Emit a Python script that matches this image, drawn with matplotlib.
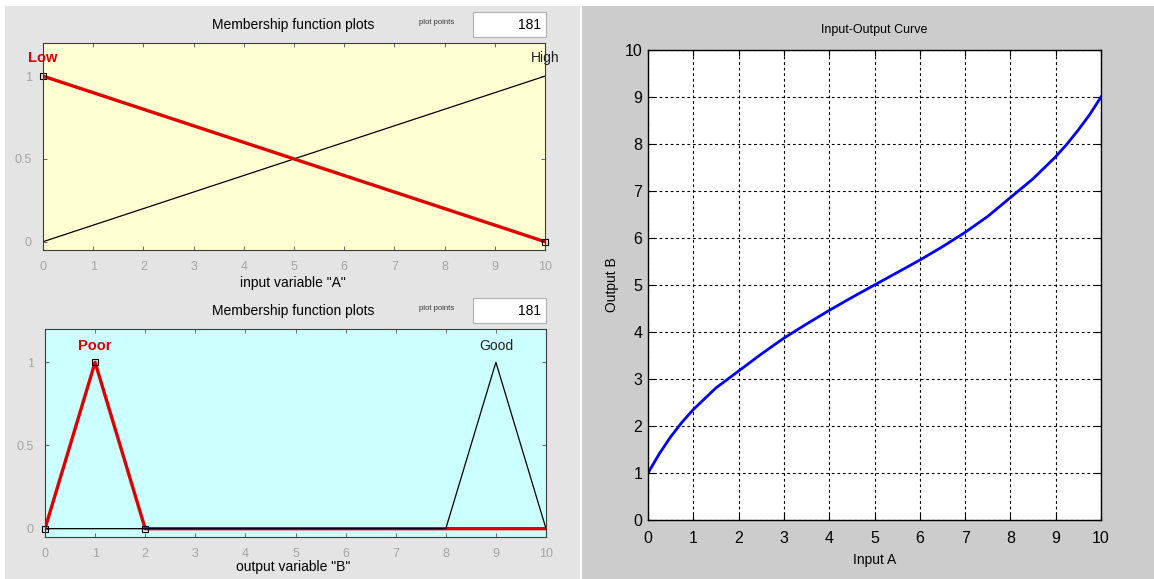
import matplotlib.pyplot as plt
from matplotlib.patches import Rectangle

W, H = 1154, 579

# membership functions of input A (Low / High)
a_x = [0, 10]
a_low = [1, 0]
a_high = [0, 1]

# membership functions of output B (Poor / Good), trimf corners
b_x = [0, 1, 2, 8, 9, 10]
b_poor = [0, 1, 0, 0, 0, 0]
b_good = [0, 0, 0, 0, 1, 0]
poor_pts_x = [0, 1, 2]
poor_pts_y = [0, 1, 0]

mf_ticks = list(range(11))
mf_yticks = [0, 0.5, 1]
mf_yticklabels = ['0', '0.5', '1']
plot_points = '181'

# surface curve of the fuzzy system
curve_x = [0, 0.25, 0.5, 0.75, 1, 1.5, 2, 2.5, 3, 3.5, 4, 4.5, 5,
           5.5, 6, 6.5, 7, 7.5, 8, 8.5, 9, 9.25, 9.5, 9.75, 10]
curve_y = [1, 1.41, 1.77, 2.08, 2.35, 2.81, 3.17, 3.53, 3.87, 4.17, 4.46, 4.735, 5,
           5.265, 5.53, 5.815, 6.12, 6.46, 6.86, 7.26, 7.73, 8.0, 8.3, 8.625, 9]

plt.rcParams['font.family'] = ['Liberation Sans', 'DejaVu Sans']


def fx(px):
    return px / W


def fy(py):
    return 1 - py / H


def box(l, t, r, b):
    return [fx(l), fy(b), fx(r) - fx(l), fy(t) - fy(b)]


fig = plt.figure(figsize=(W / 100, H / 100), dpi=100, facecolor='white')

# window backgrounds, kept under the axes
fig.patches.append(Rectangle((fx(5), 0), fx(580) - fx(5), fy(6), transform=fig.transFigure,
                             facecolor='#e4e4e4', edgecolor='none', zorder=-10))
fig.patches.append(Rectangle((fx(582), 0), 1 - fx(582), fy(6), transform=fig.transFigure,
                             facecolor='#cccccc', edgecolor='none', zorder=-10))


def mf_axes(rect, bg):
    ax = fig.add_axes(rect, facecolor=bg)
    ax.set_xlim(0, 10)
    ax.set_ylim(-0.05, 1.2)
    ax.set_xticks(mf_ticks)
    ax.set_yticks(mf_yticks)
    ax.set_yticklabels(mf_yticklabels)
    ax.tick_params(direction='in', top=True, right=True, length=3, width=0.6,
                   colors='#555555', labelcolor='#a4a4a4', labelsize=9)
    ax.tick_params(axis='x', pad=8)
    ax.tick_params(axis='y', pad=8)
    for s in ax.spines.values():
        s.set_color('#3c3c3c')
        s.set_linewidth(0.8)
    return ax


def mf_header(top):
    fig.text(fx(293), fy(top + 13), 'Membership function plots', ha='center', va='center', fontsize=10)
    fig.text(fx(437), fy(top + 10), 'plot points', ha='center', va='center', fontsize=5.5, color='#333333')
    fig.patches.append(Rectangle((fx(473), fy(top + 25)), fx(546) - fx(473), fy(top) - fy(top + 25),
                                 transform=fig.transFigure, facecolor='white',
                                 edgecolor='#b0b0b0', linewidth=0.8, zorder=-5))
    fig.text(fx(541), fy(top + 13), plot_points, ha='right', va='center', fontsize=10)


# input variable A
mf_header(12)
ax1 = mf_axes(box(43, 43, 545, 250), '#ffffd2')
ax1.plot(a_x, a_high, color='black', lw=0.9)
ax1.plot(a_x, a_low, color='#e00000', lw=2.4)
ax1.plot(a_x, a_low, ls='none', marker='s', ms=4, mfc='none', mec='black', mew=0.8, clip_on=False)
ax1.text(0, 1.11, 'Low', color='#e00000', ha='center', va='center', fontsize=10.5, fontweight='bold')
ax1.text(10, 1.11, 'High', color='#202020', ha='center', va='center', fontsize=10)
fig.text(fx(293), fy(283), 'input variable "A"', ha='center', va='center', fontsize=10)

# output variable B
mf_header(298)
ax2 = mf_axes(box(45, 329, 546, 537), '#ccffff')
ax2.plot(b_x, b_poor, color='#e00000', lw=2.4)
ax2.plot(b_x, b_good, color='black', lw=0.9)
ax2.plot(poor_pts_x, poor_pts_y, ls='none', marker='s', ms=5, mfc='none', mec='black', mew=0.8, clip_on=False)
ax2.text(1, 1.1, 'Poor', color='#e00000', ha='center', va='center', fontsize=10.5, fontweight='bold')
ax2.text(9, 1.1, 'Good', color='#202020', ha='center', va='center', fontsize=10)
fig.text(fx(293), fy(567), 'output variable "B"', ha='center', va='center', fontsize=10)

# input-output curve
ax3 = fig.add_axes(box(648, 50, 1101, 520), facecolor='white')
ax3.plot(curve_x, curve_y, color='#0000ff', lw=2)
ax3.set_xlim(0, 10)
ax3.set_ylim(0, 10)
ax3.set_xticks(mf_ticks)
ax3.set_yticks(mf_ticks)
ax3.grid(True, color='black', linestyle=(0, (2.5, 2.5)), linewidth=0.8)
ax3.tick_params(direction='in', top=True, right=True, length=4, labelsize=11.5, colors='black')
ax3.tick_params(axis='x', pad=8)
ax3.tick_params(axis='y', pad=4)
for s in ax3.spines.values():
    s.set_linewidth(1)
ax3.set_title('Input-Output Curve', fontsize=9, pad=12)
ax3.set_xlabel('Input A', fontsize=10, labelpad=5)
ax3.set_ylabel('Output B', fontsize=10, labelpad=4)

fig.savefig('out.png', dpi=100, facecolor=fig.get_facecolor())
